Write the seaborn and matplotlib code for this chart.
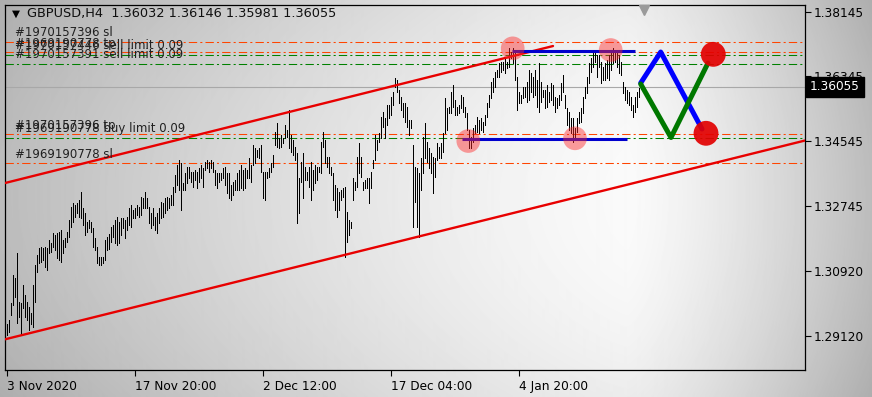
import numpy as np
import pandas as pd
import matplotlib
matplotlib.use("Agg")
import matplotlib.pyplot as plt
import matplotlib.transforms as mtransforms
import seaborn as sns

# ---------------- data ----------------
header_symbol = "GBPUSD,H4"
header_ohlc = ["1.36032", "1.36146", "1.35981", "1.36055"]

highs = [
    1.2944, 1.2957, 1.3005, 1.3083, 1.3074, 1.3144, 1.3007, 1.3005, 1.3055, 1.3027,
    1.3007, 1.2994, 1.2977, 1.3055, 1.3110, 1.3138, 1.3158, 1.3160, 1.3158, 1.3160,
    1.3158, 1.3180, 1.3172, 1.3199, 1.3194, 1.3199, 1.3202, 1.3208, 1.3180, 1.3185,
    1.3202, 1.3235, 1.3272, 1.3283, 1.3277, 1.3283, 1.3291, 1.3313, 1.3269, 1.3255,
    1.3230, 1.3235, 1.3230, 1.3213, 1.3185, 1.3160, 1.3133, 1.3133, 1.3133, 1.3180,
    1.3188, 1.3196, 1.3216, 1.3222, 1.3235, 1.3244, 1.3230, 1.3241, 1.3241, 1.3235,
    1.3244, 1.3269, 1.3277, 1.3263, 1.3269, 1.3277, 1.3272, 1.3299, 1.3297, 1.3313,
    1.3297, 1.3272, 1.3255, 1.3269, 1.3244, 1.3255, 1.3269, 1.3285, 1.3283, 1.3297,
    1.3299, 1.3297, 1.3305, 1.3327, 1.3361, 1.3388, 1.3402, 1.3394, 1.3338, 1.3366,
    1.3383, 1.3383, 1.3369, 1.3369, 1.3374, 1.3369, 1.3380, 1.3388, 1.3380, 1.3397,
    1.3402, 1.3397, 1.3402, 1.3397, 1.3374, 1.3366, 1.3366, 1.3366, 1.3380, 1.3383,
    1.3366, 1.3366, 1.3333, 1.3341, 1.3347, 1.3366, 1.3374, 1.3388, 1.3374, 1.3380,
    1.3374, 1.3408, 1.3388, 1.3444, 1.3436, 1.3430, 1.3436, 1.3444, 1.3369, 1.3369,
    1.3369, 1.3380, 1.3394, 1.3416, 1.3480, 1.3505, 1.3463, 1.3472, 1.3463, 1.3499,
    1.3486, 1.3541, 1.3472, 1.3458, 1.3439, 1.3422, 1.3352, 1.3397, 1.3422, 1.3383,
    1.3369, 1.3383, 1.3397, 1.3374, 1.3388, 1.3383, 1.3383, 1.3452, 1.3480, 1.3458,
    1.3411, 1.3411, 1.3383, 1.3366, 1.3333, 1.3324, 1.3313, 1.3319, 1.3324, 1.3327,
    1.3257, 1.3235, 1.3230, 1.3352, 1.3341, 1.3411, 1.3449, 1.3411, 1.3341, 1.3347,
    1.3352, 1.3352, 1.3369, 1.3402, 1.3472, 1.3458, 1.3477, 1.3522, 1.3536, 1.3519,
    1.3555, 1.3555, 1.3577, 1.3591, 1.3630, 1.3625, 1.3597, 1.3577, 1.3561, 1.3561,
    1.3550, 1.3513, 1.3513, 1.3444, 1.3383, 1.3380, 1.3366, 1.3408, 1.3466, 1.3505,
    1.3452, 1.3436, 1.3422, 1.3411, 1.3408, 1.3449, 1.3439, 1.3449, 1.3477, 1.3574,
    1.3547, 1.3550, 1.3591, 1.3611, 1.3569, 1.3550, 1.3555, 1.3583, 1.3577, 1.3550,
    1.3533, 1.3486, 1.3466, 1.3491, 1.3499, 1.3522, 1.3513, 1.3519, 1.3508, 1.3527,
    1.3561, 1.3583, 1.3619, 1.3630, 1.3647, 1.3652, 1.3672, 1.3675, 1.3675, 1.3689,
    1.3675, 1.3714, 1.3703, 1.3714, 1.3700, 1.3633, 1.3591, 1.3583, 1.3605, 1.3605,
    1.3619, 1.3652, 1.3644, 1.3633, 1.3652, 1.3625, 1.3672, 1.3619, 1.3597, 1.3597,
    1.3611, 1.3591, 1.3616, 1.3611, 1.3577, 1.3574, 1.3583, 1.3616, 1.3639, 1.3583,
    1.3547, 1.3536, 1.3519, 1.3519, 1.3491, 1.3519, 1.3536, 1.3547, 1.3577, 1.3605,
    1.3633, 1.3672, 1.3686, 1.3700, 1.3703, 1.3694, 1.3694, 1.3675, 1.3661, 1.3672,
    1.3680, 1.3694, 1.3708, 1.3714, 1.3703, 1.3708, 1.3694, 1.3675, 1.3619, 1.3605,
    1.3597, 1.3591, 1.3577, 1.3555, 1.3577, 1.3591, 1.3602, 1.36146,
]

lows = [
    1.2916, 1.2924, 1.2971, 1.2999, 1.3021, 1.2949, 1.2966, 1.2916, 1.2991, 1.2966,
    1.2957, 1.2930, 1.2944, 1.2938, 1.3007, 1.3091, 1.3116, 1.3119, 1.3124, 1.3105,
    1.3096, 1.3144, 1.3146, 1.3160, 1.3152, 1.3130, 1.3124, 1.3119, 1.3144, 1.3160,
    1.3174, 1.3188, 1.3216, 1.3230, 1.3244, 1.3255, 1.3244, 1.3241, 1.3222, 1.3194,
    1.3202, 1.3213, 1.3202, 1.3160, 1.3152, 1.3116, 1.3110, 1.3110, 1.3116, 1.3124,
    1.3152, 1.3155, 1.3174, 1.3188, 1.3172, 1.3166, 1.3172, 1.3194, 1.3213, 1.3185,
    1.3208, 1.3222, 1.3216, 1.3241, 1.3241, 1.3249, 1.3244, 1.3249, 1.3269, 1.3269,
    1.3269, 1.3227, 1.3213, 1.3222, 1.3208, 1.3199, 1.3227, 1.3241, 1.3244, 1.3255,
    1.3263, 1.3269, 1.3277, 1.3277, 1.3313, 1.3333, 1.3319, 1.3263, 1.3319, 1.3319,
    1.3338, 1.3352, 1.3341, 1.3327, 1.3347, 1.3324, 1.3341, 1.3352, 1.3327, 1.3374,
    1.3380, 1.3369, 1.3380, 1.3369, 1.3333, 1.3324, 1.3341, 1.3347, 1.3352, 1.3333,
    1.3310, 1.3297, 1.3291, 1.3305, 1.3319, 1.3319, 1.3319, 1.3324, 1.3319, 1.3324,
    1.3352, 1.3352, 1.3341, 1.3388, 1.3394, 1.3411, 1.3408, 1.3369, 1.3297, 1.3291,
    1.3352, 1.3355, 1.3369, 1.3383, 1.3444, 1.3439, 1.3436, 1.3439, 1.3449, 1.3463,
    1.3466, 1.3436, 1.3424, 1.3416, 1.3402, 1.3227, 1.3255, 1.3341, 1.3297, 1.3347,
    1.3347, 1.3327, 1.3291, 1.3319, 1.3338, 1.3347, 1.3369, 1.3366, 1.3439, 1.3394,
    1.3383, 1.3366, 1.3361, 1.3291, 1.3263, 1.3244, 1.3263, 1.3291, 1.3299, 1.3133,
    1.3174, 1.3194, 1.3213, 1.3291, 1.3319, 1.3327, 1.3366, 1.3355, 1.3319, 1.3324,
    1.3324, 1.3283, 1.3324, 1.3380, 1.3402, 1.3430, 1.3452, 1.3463, 1.3494, 1.3463,
    1.3499, 1.3519, 1.3527, 1.3555, 1.3605, 1.3591, 1.3561, 1.3541, 1.3522, 1.3508,
    1.3494, 1.3472, 1.3491, 1.3216, 1.3285, 1.3216, 1.3188, 1.3319, 1.3366, 1.3408,
    1.3397, 1.3380, 1.3366, 1.3310, 1.3355, 1.3402, 1.3408, 1.3408, 1.3424, 1.3477,
    1.3486, 1.3533, 1.3533, 1.3550, 1.3527, 1.3527, 1.3533, 1.3547, 1.3536, 1.3522,
    1.3486, 1.3436, 1.3436, 1.3452, 1.3477, 1.3480, 1.3477, 1.3486, 1.3480, 1.3499,
    1.3522, 1.3550, 1.3574, 1.3591, 1.3605, 1.3633, 1.3633, 1.3647, 1.3652, 1.3644,
    1.3658, 1.3661, 1.3686, 1.3672, 1.3625, 1.3541, 1.3561, 1.3561, 1.3574, 1.3577,
    1.3564, 1.3569, 1.3591, 1.3577, 1.3583, 1.3550, 1.3536, 1.3564, 1.3577, 1.3547,
    1.3550, 1.3564, 1.3569, 1.3555, 1.3536, 1.3547, 1.3555, 1.3569, 1.3591, 1.3547,
    1.3499, 1.3486, 1.3477, 1.3452, 1.3463, 1.3480, 1.3505, 1.3508, 1.3533, 1.3574,
    1.3588, 1.3616, 1.3647, 1.3661, 1.3675, 1.3633, 1.3661, 1.3616, 1.3625, 1.3625,
    1.3630, 1.3625, 1.3652, 1.3672, 1.3675, 1.3661, 1.3644, 1.3639, 1.3588, 1.3569,
    1.3561, 1.3555, 1.3541, 1.3522, 1.3536, 1.3550, 1.3577, 1.35981,
]

bid_price = 1.36055
price_ticks = [1.38145, 1.36345, 1.34545, 1.32745, 1.30920, 1.29120]
time_tick_bars = [0, 64, 128, 192, 256]
time_tick_labels = ["3 Nov 2020", "17 Nov 20:00", "2 Dec 12:00", "17 Dec 04:00", "4 Jan 20:00"]

order_prices = [1.37310, 1.37015, 1.36940, 1.36689, 1.34733, 1.34630, 1.33926]
order_labels = ["#1970157396 sl", "#1969190778 tp", "#1970157446 sell limit 0.09",
                "#1970157391 sell limit 0.09", "#1970157396 tp",
                "#1969190778 buy limit 0.09", "#1969190778 sl"]
order_kinds = ["stop", "stop", "pending", "pending", "stop", "pending", "stop"]

channel_upper_bars = [-1, 273]
channel_upper_prices = [1.33377, 1.37190]
channel_lower_bars = [-1, 399]
channel_lower_prices = [1.29027, 1.34560]

range_top_bars = [252.5, 314]
range_top_price = 1.37060
range_bot_bars = [227.5, 310]
range_bot_price = 1.34594

touch_bars = [252.85, 301.85, 230.65, 284.0]
touch_prices = [1.37126, 1.37079, 1.34546, 1.34621]

target_bars = [353.15, 349.5]
target_prices = [1.36959, 1.34761]

blue_path_bars = [316.85, 326.85, 347.5]
blue_path_prices = [1.36161, 1.37023, 1.34880]
green_path_bars = [316.85, 332.0, 350.5]
green_path_prices = [1.36133, 1.34644, 1.36717]

# ---------------- figure ----------------
sns.set_theme(style="white")
plt.rcParams["font.family"] = ["DejaVu Sans"]

W, H = 872, 397
fig = plt.figure(figsize=(W / 100, H / 100), dpi=100)

# gradient background (terminal style)
bg = fig.add_axes([0, 0, 1, 1], zorder=-10)
gx = np.linspace(0, 1, W)
gy = np.linspace(0, 1, H)
GX, GY = np.meshgrid(gx, gy)
dx = np.where(GX < 0.72, (0.72 - GX) / 0.72, (GX - 0.72) / 0.28)
val = 250 - 62 * dx ** 1.3 - 14 * ((GY - 0.5) / 0.5) ** 2
bg.imshow(val, cmap="gray", vmin=0, vmax=255, extent=[0, 1, 0, 1], aspect="auto",
          interpolation="bilinear")
bg.set_axis_off()

left, right, top, bottom = 4.5, 805, 5, 370
ax = fig.add_axes([left / W, 1 - bottom / H, (right - left) / W, (bottom - top) / H])
ax.patch.set_alpha(0)
ax.set_xlim(-1.25, 399)
ax.set_ylim(1.28173, 1.38332)

ax_blend = mtransforms.blended_transform_factory(ax.transAxes, ax.transData)

# bid line
ax.axhline(bid_price, color="#a8a8a8", lw=0.8, zorder=1)

# order lines
for p, kind in zip(order_prices, order_kinds):
    col = "#ff4500" if kind == "stop" else "#008000"
    ax.axhline(p, color=col, lw=0.75, dashes=(8, 3, 2, 3), zorder=1)
for p, lab in zip(order_prices, order_labels):
    ax.annotate(lab, xy=(0.0131, p), xycoords=ax_blend, xytext=(0, 2.0),
                textcoords="offset points", va="bottom", ha="left",
                fontsize=8.5, color="#202020", zorder=6)

# OHLC bars (high-low)
idx = np.arange(len(highs))
ax.vlines(idx, lows, highs, color="black", lw=0.68, antialiased=False, zorder=3)

# channel lines
for bx, py in [(channel_upper_bars, channel_upper_prices),
               (channel_lower_bars, channel_lower_prices)]:
    sns.lineplot(x=bx, y=py, ax=ax, color="#e80000", lw=1.7, sort=False,
                 zorder=4, legend=False)

# range lines
ax.hlines([range_top_price], [range_top_bars[0]], [range_top_bars[1]],
          color="#0000cd", lw=2.2, zorder=5)
ax.hlines([range_bot_price], [range_bot_bars[0]], [range_bot_bars[1]],
          color="#0000cd", lw=2.2, zorder=5)

# touch circles
sns.scatterplot(x=touch_bars, y=touch_prices, ax=ax, s=290, color="#ff2a2a",
                alpha=0.45, edgecolor="none", zorder=6, legend=False)

# projected paths
sns.lineplot(x=blue_path_bars, y=blue_path_prices, ax=ax, color="#0000ff", lw=3.6,
             sort=False, zorder=7, legend=False)
sns.lineplot(x=green_path_bars, y=green_path_prices, ax=ax, color="#007800", lw=3.6,
             sort=False, zorder=8, legend=False)

sns.scatterplot(x=target_bars, y=target_prices, ax=ax, s=320, color="#e20000",
                alpha=0.92, edgecolor="none", zorder=9, legend=False)

# chart shift marker
shift_tr = mtransforms.blended_transform_factory(ax.transData, ax.transAxes)
ax.plot([318.5], [0.985], marker="v", ms=7, color="#9a9a9a", transform=shift_tr,
        clip_on=False, zorder=10)

# axes styling
for s in ax.spines.values():
    s.set_color("black")
    s.set_linewidth(0.9)

ax.yaxis.tick_right()
ax.set_yticks(price_ticks)
ax.set_yticklabels([f"{v:.5f}" for v in price_ticks])
ax.tick_params(axis="y", direction="out", length=4, width=0.8, colors="black",
               labelsize=8.7, pad=2, right=True, left=False)
ax.set_xticks(time_tick_bars)
ax.set_xticklabels(time_tick_labels)
for t in ax.get_xticklabels():
    t.set_ha("left")
ax.tick_params(axis="x", direction="out", length=4, width=0.8, colors="black",
               labelsize=8.7, pad=3, bottom=True)
ax.set_xlabel("")
ax.set_ylabel("")
ax.grid(False)

# bid price box on axis
ax.annotate(f"{bid_price:.5f}", xy=(1.0, bid_price), xycoords=ax_blend,
            xytext=(3.6, 0), textcoords="offset points", va="center", ha="left",
            fontsize=8.7, color="white", zorder=12, annotation_clip=False,
            bbox=dict(boxstyle="square,pad=0.3", facecolor="black", edgecolor="black"))

# header
fig.text(12 / W, 1 - 14 / H, "▼", fontsize=7.5, color="black", va="center", ha="left")
fig.text(27 / W, 1 - 14 / H, header_symbol + "  " + " ".join(header_ohlc),
         fontsize=9.3, color="#101010", va="center", ha="left")

fig.savefig("out.png", dpi=100)
